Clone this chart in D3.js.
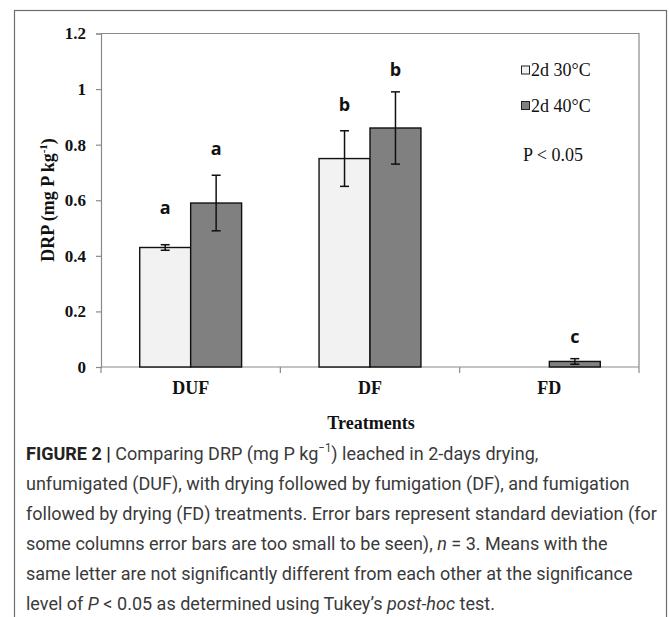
<!DOCTYPE html>
<html>
<head>
<meta charset="utf-8">
<script src="https://cdn.jsdelivr.net/npm/d3@7"></script>
<style>
  html, body { margin: 0; padding: 0; background: #fff; }
  svg { display: block; }
</style>
</head>
<body>
<svg id="chart" width="669" height="617"></svg>
<script>
// ---- data ----
const categories = ["DUF", "DF", "FD"];
const seriesNames = ["2d 30°C", "2d 40°C"];
const values30 = [0.43, 0.75, 0.0];
const values40 = [0.59, 0.86, 0.02];
const err30 = [0.01, 0.10, 0.0];
const err40 = [0.10, 0.13, 0.01];
const letters30 = ["a", "b", ""];
const letters40 = ["a", "b", "c"];
const letterPos30 = [0.573, 0.941, 0];
const letterPos40 = [0.786, 1.067, 0.108];
const yTicks = [0, 0.2, 0.4, 0.6, 0.8, 1.0, 1.2];
const yTickLabels = ["0", "0.2", "0.4", "0.6", "0.8", "1", "1.2"];

// ---- layout ----
const svg = d3.select("#chart");
const plot = { left: 101, right: 639, top: 33.5, bottom: 367 };
const fills = ["#f2f2f2", "#808080"];

// outer frame
svg.append("rect").attr("x", 14.5).attr("y", 10.5).attr("width", 652).attr("height", 640)
  .attr("fill", "none").attr("stroke", "#6e6e6e").attr("stroke-width", 1.2);

const y = d3.scaleLinear().domain([0, 1.2]).range([plot.bottom, plot.top]);
const x0 = d3.scaleBand().domain(categories).range([plot.left, plot.right]).paddingInner(0).paddingOuter(0);
const x1 = d3.scaleBand().domain(seriesNames).range([0, x0.bandwidth()]).paddingInner(0).paddingOuter(0.76);

// plot frame (top/right)
svg.append("path")
  .attr("d", `M${plot.left},${plot.top}H${plot.right}V${plot.bottom}`)
  .attr("fill", "none").attr("stroke", "#8a8a8a").attr("stroke-width", 1.2);

// y axis
const yAxis = d3.axisLeft(y).tickValues(yTicks).tickFormat((d, i) => yTickLabels[i]).tickSize(5).tickPadding(10);
const gy = svg.append("g").attr("transform", `translate(${plot.left},0)`).call(yAxis);
gy.select(".domain").attr("stroke", "#8a8a8a").attr("stroke-width", 1.2);
gy.selectAll(".tick line").attr("stroke", "#8a8a8a").attr("stroke-width", 1.2);
gy.selectAll(".tick text").attr("font-family", "'Liberation Serif', 'Times New Roman', serif")
  .attr("font-weight", "bold").attr("font-size", 17).attr("fill", "#111");

// x axis
const boundaries = [plot.left, ...categories.map(c => x0(c) + x0.bandwidth())];
svg.append("line").attr("x1", plot.left).attr("x2", plot.right).attr("y1", plot.bottom).attr("y2", plot.bottom)
  .attr("stroke", "#8a8a8a").attr("stroke-width", 1.2);
svg.selectAll(".xtick").data(boundaries).enter().append("line")
  .attr("x1", d => d).attr("x2", d => d).attr("y1", plot.bottom).attr("y2", plot.bottom + 6)
  .attr("stroke", "#8a8a8a").attr("stroke-width", 1.2);
svg.selectAll(".xlab").data(categories).enter().append("text")
  .attr("x", d => x0(d) + x0.bandwidth() / 2).attr("y", 394)
  .attr("text-anchor", "middle")
  .attr("font-family", "'Liberation Serif', 'Times New Roman', serif")
  .attr("font-weight", "bold").attr("font-size", 18).attr("fill", "#111")
  .text(d => d);

// axis titles
svg.append("text").attr("x", (plot.left + plot.right) / 2 + 1).attr("y", 429)
  .attr("text-anchor", "middle")
  .attr("font-family", "'Liberation Serif', 'Times New Roman', serif")
  .attr("font-weight", "bold").attr("font-size", 18).attr("fill", "#111")
  .text("Treatments");

const yt = svg.append("text").attr("transform", "translate(54,200) rotate(-90)")
  .attr("text-anchor", "middle")
  .attr("font-family", "'Liberation Serif', 'Times New Roman', serif")
  .attr("font-weight", "bold").attr("font-size", 18).attr("fill", "#111");
yt.append("tspan").text("DRP (mg P kg");
yt.append("tspan").attr("font-size", 11).attr("dy", -7).text("-1");
yt.append("tspan").attr("dy", 7).text(")");

// bars
const rows = categories.map((c, i) => ({
  cat: c,
  items: [
    { s: seriesNames[0], v: values30[i], e: err30[i], l: letters30[i], lp: letterPos30[i], k: 0 },
    { s: seriesNames[1], v: values40[i], e: err40[i], l: letters40[i], lp: letterPos40[i], k: 1 }
  ]
}));
const items = rows.flatMap(r => r.items.map(it => Object.assign({ cat: r.cat }, it)));

svg.selectAll(".bar").data(items).enter().append("rect")
  .attr("x", d => x0(d.cat) + x1(d.s))
  .attr("y", d => y(d.v))
  .attr("width", x1.bandwidth())
  .attr("height", d => y(0) - y(d.v))
  .attr("fill", d => fills[d.k])
  .attr("stroke", d => d.v > 0 ? "#111" : "none")
  .attr("stroke-width", 1.4);

// error bars
const eb = items.filter(d => d.e > 0);
const cx = d => x0(d.cat) + x1(d.s) + x1.bandwidth() / 2;
svg.selectAll(".errv").data(eb).enter().append("line")
  .attr("x1", cx).attr("x2", cx)
  .attr("y1", d => y(d.v + d.e)).attr("y2", d => y(d.v - d.e))
  .attr("stroke", "#111").attr("stroke-width", 1.5);
svg.selectAll(".errt").data(eb.flatMap(d => [{ d, v: d.v + d.e }, { d, v: d.v - d.e }])).enter().append("line")
  .attr("x1", o => cx(o.d) - 4.5).attr("x2", o => cx(o.d) + 4.5)
  .attr("y1", o => y(o.v)).attr("y2", o => y(o.v))
  .attr("stroke", "#111").attr("stroke-width", 1.5);

// significance letters
svg.selectAll(".letter").data(items.filter(d => d.l)).enter().append("text")
  .attr("x", cx).attr("y", d => y(d.lp) + 6)
  .attr("text-anchor", "middle")
  .attr("font-family", "'Open Sans', 'DejaVu Sans', sans-serif")
  .attr("font-weight", "bold").attr("font-size", 18).attr("fill", "#111")
  .text(d => d.l);

// legend
const lg = svg.append("g");
seriesNames.forEach((s, i) => {
  const ly = 70 + i * 35.5;
  lg.append("rect").attr("x", 521.5).attr("y", ly - 4).attr("width", 8).attr("height", 8)
    .attr("fill", fills[i]).attr("stroke", "#222").attr("stroke-width", 1);
  lg.append("text").attr("x", 531).attr("y", ly + 6)
    .attr("font-family", "'Liberation Serif', 'Times New Roman', serif")
    .attr("font-size", 18).attr("fill", "#111").text(s);
});
svg.append("text").attr("x", 523).attr("y", 161)
  .attr("font-family", "'Liberation Serif', 'Times New Roman', serif")
  .attr("font-size", 18).attr("fill", "#111").text("P < 0.05");

// caption
const capFont = "'Roboto', 'Liberation Sans', sans-serif";
const capX = 26;
const cap = svg.append("g").attr("font-family", capFont).attr("fill", "#3a3a3a").attr("font-weight", 400);
const lines = [
  [["b", "FIGURE 2 | "], ["n", "Comparing DRP (mg P kg"], ["sup", "−1"], ["n", ") leached in 2-days drying,"]],
  [["n", "unfumigated (DUF), with drying followed by fumigation (DF), and fumigation"]],
  [["n", "followed by drying (FD) treatments. Error bars represent standard deviation (for"]],
  [["n", "some columns error bars are too small to be seen), "], ["i", "n"], ["n", " = 3. Means with the"]],
  [["n", "same letter are not significantly different from each other at the significance"]],
  [["n", "level of "], ["i", "P"], ["n", " < 0.05 as determined using Tukey’s "], ["i", "post-hoc"], ["n", " test."]]
];
const capTexts = lines.map((ln, i) => {
  const t = cap.append("text").attr("x", capX).attr("y", 460 + i * 30).attr("font-size", 19);
  let prevSup = false;
  ln.forEach(([k, s]) => {
    const ts = t.append("tspan").text(s);
    if (k === "b") ts.attr("font-weight", 700).attr("fill", "#222");
    if (k === "i") ts.attr("font-style", "italic");
    if (k === "sup") ts.attr("font-size", 12).attr("dy", -8);
    else if (prevSup) ts.attr("dy", 8);
    prevSup = (k === "sup");
  });
  return t;
});
// condense horizontally so the widest line spans the caption width
const w3 = capTexts[2].node().getComputedTextLength();
const sx = 631 / w3;
cap.attr("transform", `translate(${capX},0) scale(${sx},1) translate(${-capX},0)`);
</script>
</body>
</html>
